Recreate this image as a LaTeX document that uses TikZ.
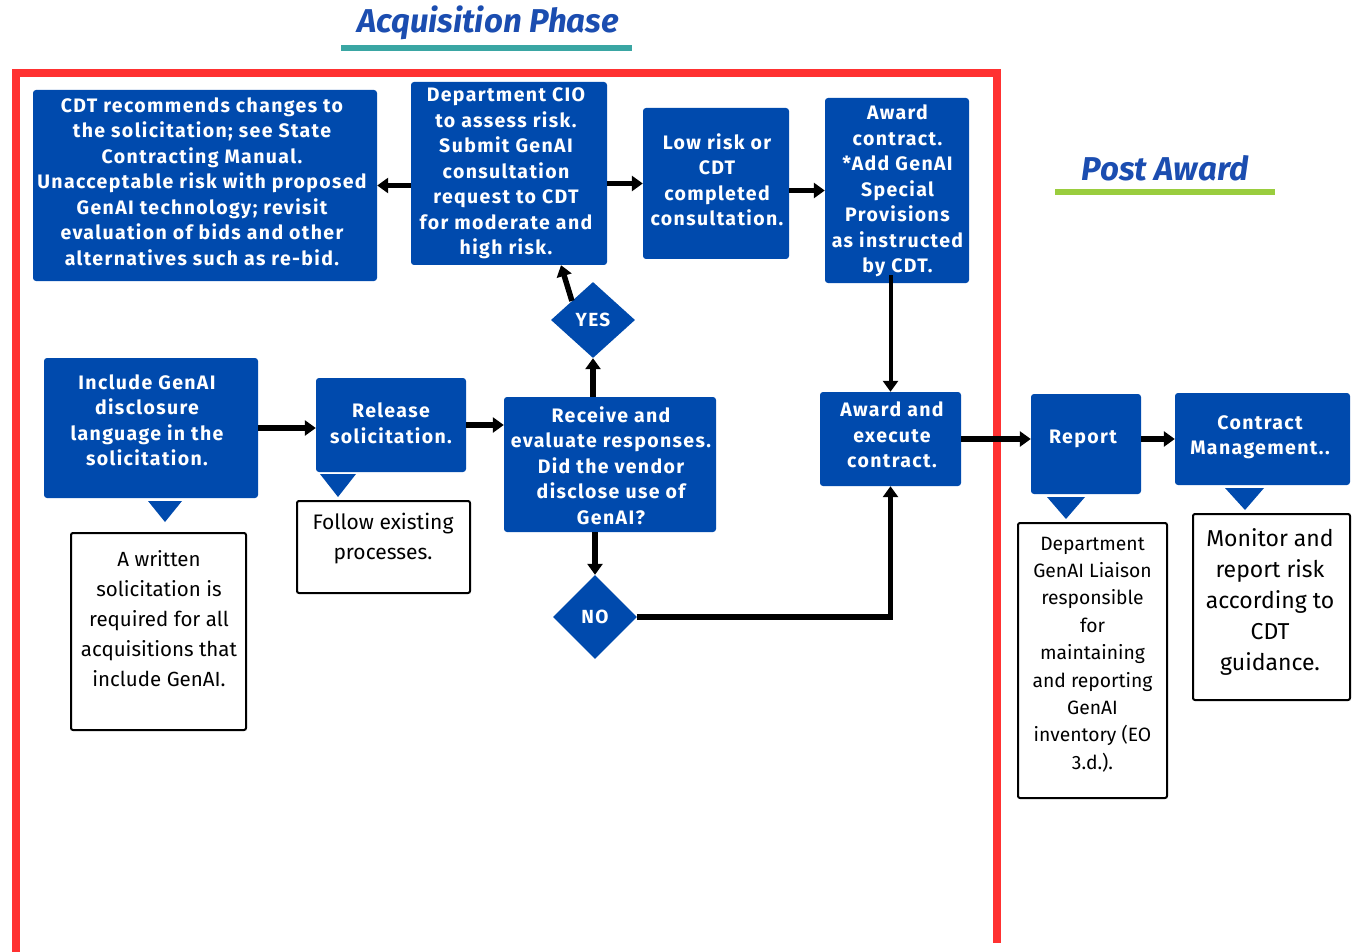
\documentclass[tikz,border=0pt]{standalone}
\usepackage{fontspec}
\setmainfont{Fira Sans}
\newfontfamily\boxfont[LetterSpace=7]{Fira Sans}
\newfontfamily\titlefont{Fira Sans}
\usetikzlibrary{shapes.geometric,arrows.meta,calc}
\definecolor{cblue}{HTML}{004AAD}
\definecolor{cred}{HTML}{FF3131}
\definecolor{cteal}{HTML}{3AA6A3}
\definecolor{cgreen}{HTML}{9ACD3E}
\definecolor{ctitle}{HTML}{1B4DB0}
\tikzset{
  bbox/.style={fill=cblue, rounded corners=3pt, inner sep=0pt},
  btxt/.style={inner sep=0pt, align=center, text=white,
    font=\boxfont\bfseries\fontsize{19.5}{25.5}\selectfont},
  wbox/.style={draw=black, line width=2pt, fill=white, rounded corners=2pt, inner sep=0pt},
  wtxt/.style={inner sep=0pt, align=center, font=\fontsize{20.5}{30}\selectfont},
  dia/.style={diamond, fill=cblue, inner sep=0pt, text=white, font=\boxfont\bfseries\fontsize{19}{20}\selectfont},
  arr/.style={line width=5.5pt, -{Triangle[width=15pt,length=11pt]}},
  ptr/.style={fill=cblue},
  frame/.style={draw=cred, line width=8pt},
  ttl/.style={text=ctitle, font=\titlefont\bfseries\itshape\fontsize{33}{36}\selectfont}
}
\begin{document}
\begin{tikzpicture}[x=1pt,y=-1pt]
\useasboundingbox (0,0) rectangle (1355,952);
% titles
\node[ttl] (t1) at (488,23) {Acquisition Phase};
\fill[cteal] (341,45) rectangle (632,51);
\node[ttl] (t2) at (1165,168) {Post Award};
\fill[cgreen] (1055,189) rectangle (1275,195);
% red frame
\draw[frame] (16,952) -- (16,73) -- (997,73) -- (997,943);
% blue boxes
\node[bbox, minimum width=344pt, minimum height=191pt] (cdt) at (205,185.5) {};
\node[btxt] (cdt-t) at (202,181.5)
 {CDT recommends changes to\\the solicitation; see State\\Contracting Manual.\\Unacceptable risk with proposed\\GenAI technology; revisit\\evaluation of bids and other\\alternatives such as re-bid.};
\node[bbox, minimum width=196pt, minimum height=183pt] (cio) at (509,173.5) {};
\node[btxt] (cio-t) at (506,173.5)
 {Department CIO\\to assess risk.\\Submit GenAI\\consultation\\request to CDT\\for moderate and\\high risk.};
\node[bbox, minimum width=146pt, minimum height=151pt] (low) at (716,183.5) {};
\node[btxt] (low-t) at (717,180)
 {Low risk or\\CDT\\completed\\consultation.};
\node[bbox, minimum width=144pt, minimum height=185pt] (award) at (897,190.5) {};
\node[btxt] (award-t) at (897.5,191)
 {Award\\contract.\\*Add GenAI\\Special\\Provisions\\as instructed\\by CDT.};
\node[bbox, minimum width=214pt, minimum height=140pt] (inc) at (151,428) {};
\node[btxt] (inc-t) at (147,420.5)
 {Include GenAI\\disclosure\\language in the\\solicitation.};
\node[bbox, minimum width=150pt, minimum height=94pt] (rel) at (391,425) {};
\node[btxt] (rel-t) at (391,423.5)
 {Release\\solicitation.};
\node[bbox, minimum width=212pt, minimum height=135pt] (rec) at (610,464.5) {};
\node[btxt] (rec-t) at (611,465.5)
 {Receive and\\evaluate responses.\\Did the vendor\\disclose use of\\GenAI?};
\node[bbox, minimum width=141pt, minimum height=94pt] (exec) at (890.5,439) {};
\node[btxt] (exec-t) at (892,435)
 {Award and\\execute\\contract.};
\node[bbox, minimum width=110pt, minimum height=100pt] (rep) at (1086,444) {};
\node[btxt] (rep-t) at (1083,439) {Report};
\node[bbox, minimum width=175pt, minimum height=92pt] (cm) at (1262.5,439) {};
\node[btxt] (cm-t) at (1260,437)
 {Contract\\Management..};
% diamonds
\node[dia, minimum width=84pt, minimum height=76pt] (yes) at (593,320) {YES};
\node[dia, minimum width=84pt, minimum height=84pt] (no) at (595,617) {NO};
% pointers
\fill[ptr] (148,501) -- (182,501) -- (165,522) -- cycle;
\fill[ptr] (320,474) -- (356,474) -- (338,497) -- cycle;
\fill[ptr] (1047,497) -- (1085,497) -- (1066,519) -- cycle;
\fill[ptr] (1225,488) -- (1264,488) -- (1245,510) -- cycle;
% white boxes
\node[wbox, minimum width=175pt, minimum height=197pt] (w1) at (158.5,631.5) {};
\node[wtxt] (w1-t) at (159,619)
 {A written\\solicitation is\\required for all\\acquisitions that\\include GenAI.};
\node[wbox, minimum width=173pt, minimum height=92pt] (w2) at (383.5,547) {};
\node[wtxt, font=\fontsize{21}{30}\selectfont] (w2-t) at (383,538.5)
 {Follow existing\\processes.};
\node[wbox, minimum width=149pt, minimum height=275pt] (w3) at (1092.5,660.5) {};
\node[wtxt, font=\fontsize{19.3}{27.4}\selectfont] (w3-t) at (1092.5,654.5)
 {Department\\GenAI Liaison\\responsible\\for\\maintaining\\and reporting\\GenAI\\inventory (EO\\3.d.).};
\node[wbox, minimum width=157pt, minimum height=186pt] (w4) at (1271.5,607) {};
\node[wtxt, font=\fontsize{23}{31}\selectfont] (w4-t) at (1270,601.5)
 {Monitor and\\report risk\\according to\\CDT\\guidance.};
% connectors
\draw[arr] (cio.west |- cdt.east) -- (cdt.east);
\draw[arr] (cio.east |- low.west) -- (low.west);
\draw[arr] (low.east |- award.west) -- (award.west);
\draw[arr, line width=4pt] ($(award.south -| exec.north)+(0,-8)$) -- (exec.north);
\draw[arr] (inc.east) -- (inc.east -| rel.west);
\draw[arr] (rel.east) -- (rel.east -| rec.west);
\draw[arr] (yes.south |- rec.north) -- (yes.south);
\draw[arr] (yes.north west) -- ($(cio.south)+(52,0)$);
\draw[arr] (no.north |- rec.south) -- (no.north);
\draw[arr] (no.east) -| (exec.south);
\draw[arr] (exec.east) -- (exec.east -| rep.west);
\draw[arr] (rep.east |- cm.west) -- (cm.west);
\end{tikzpicture}
\end{document}
